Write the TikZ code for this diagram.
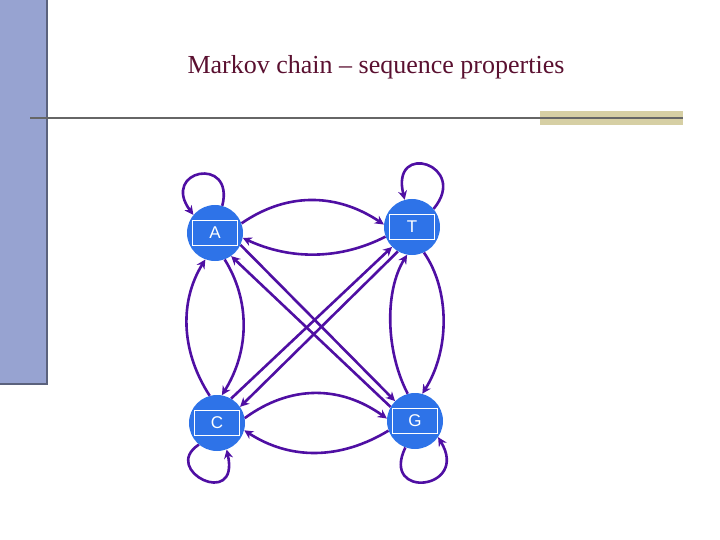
\documentclass[tikz,border=0pt]{standalone}
\usepackage{fontspec}
\setmainfont{Liberation Serif}
\newfontfamily\sansf{Liberation Sans}
\usetikzlibrary{arrows.meta}
\definecolor{edgec}{HTML}{4F0FA3}
\definecolor{nodec}{HTML}{2E73E8}
\definecolor{barc}{HTML}{97A3D1}
\definecolor{titlec}{HTML}{5A1030}
\definecolor{tanc}{HTML}{D6CFA4}
\tikzset{
 st/.style={circle,fill=nodec,minimum size=56pt,inner sep=0pt},
 lab/.style={draw=white,line width=0.8pt,minimum width=45pt,minimum height=25pt,inner sep=0pt,text=white,font=\sansf\fontsize{17}{17}\selectfont},
 ar/.style={draw=edgec,line width=2.6pt,-{Stealth[length=9pt,width=9pt]}}
}
\begin{document}
\begin{tikzpicture}[x=1pt,y=-1pt]
\useasboundingbox (0,0) rectangle (720,540);
\fill[barc] (0,0) rectangle (47,385);
\draw[barc!60!black,line width=1.5pt] (0,384) -- (47,384) -- (47,0);
\node[text=titlec,font=\fontsize{26}{26}\selectfont] (title) at (376,67) {Markov chain -- sequence properties};
\draw[gray!80!black,line width=1.2pt] (30,118) -- (683,118);
\fill[tanc] (540,111) rectangle (683,125);
\draw[gray!80!black,line width=1.2pt] (540,118) -- (683,118);
\node[st] (A) at (215,233) {}; \node[lab] (la) at (215,233) {A};
\node[st] (T) at (412,227) {}; \node[lab] (lt) at (412,227) {T};
\node[st] (C) at (217,423) {}; \node[lab] (lc) at (217,423) {C};
\node[st] (G) at (415,421) {}; \node[lab] (lg) at (415,421) {G};
% horizontal
\draw[ar] (A.20) .. controls (290,190) and (340,195) .. (T.175);
\draw[ar] (T.200) .. controls (340,260) and (290,260) .. (A.350);
\draw[ar] (C.10) .. controls (290,385) and (340,385) .. (G.175);
\draw[ar] (G.200) .. controls (340,460) and (290,460) .. (C.345);
% vertical
\draw[ar] (A.290) .. controls (250,300) and (250,350) .. (C.80);
\draw[ar] (C.105) .. controls (180,350) and (180,300) .. (A.250);
\draw[ar] (T.295) .. controls (450,290) and (450,350) .. (G.75);
\draw[ar] (G.105) .. controls (385,350) and (385,290) .. (T.260);
% diagonals
\draw[ar] (A.335) -- (G.135);
\draw[ar] (G.150) -- (A.305);
\draw[ar] (C.60) -- (T.225);
\draw[ar] (T.240) -- (C.35);
% loops
\draw[ar] (A.75) .. controls (235,155) and (160,170) .. (A.140);
\draw[ar] (T.40) .. controls (470,165) and (390,140) .. (T.105);
\draw[ar] (C.230) .. controls (160,470) and (240,510) .. (C.290);
\draw[ar] (G.250) .. controls (380,500) and (470,490) .. (G.325);
\end{tikzpicture}
\end{document}
